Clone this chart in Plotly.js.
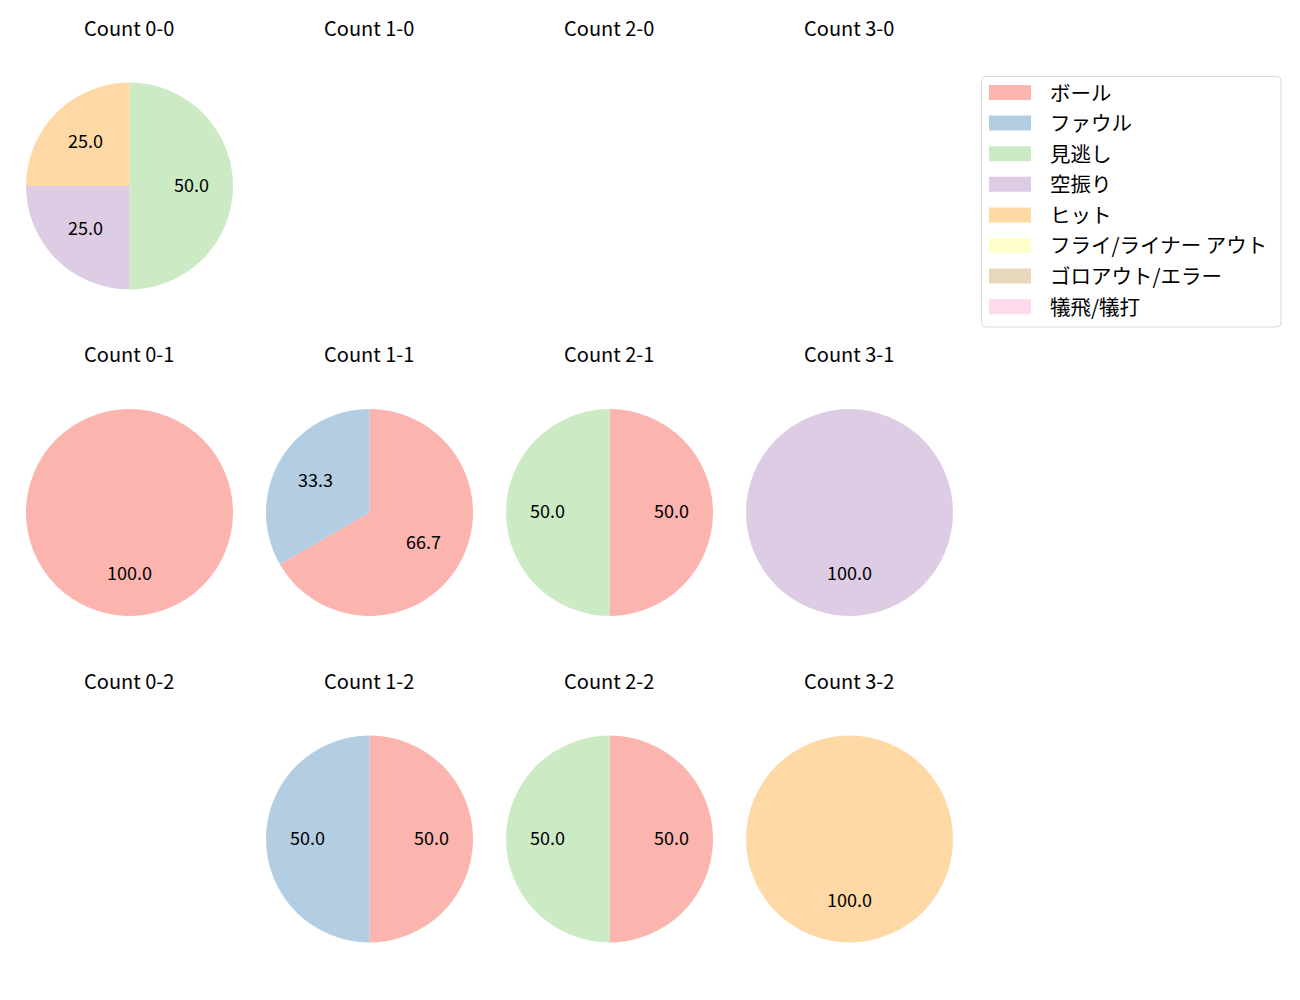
<!DOCTYPE html>
<html>
<head>
<meta charset="utf-8">
<script src="https://cdn.plot.ly/plotly-3.0.1.min.js"></script>
<style>html,body{margin:0;padding:0;background:#fff;}</style>
</head>
<body>
<div id="chart" style="width:1300px;height:1000px;"></div>
<script>
// Result categories (legend order) and colours
const labels = ['ボール', 'ファウル', '見逃し', '空振り', 'ヒット', 'フライ/ライナー アウト', 'ゴロアウト/エラー', '犠飛/犠打'];
const colors = ['#fbb4ae', '#b3cde3', '#ccebc5', '#decbe4', '#fed9a6', '#ffffcc', '#e5d8bd', '#fddaec'];

// Count titles (balls-strikes), laid out in a 4 x 3 grid
const balls = [0, 1, 2, 3];
const strikes = [0, 1, 2];

// Pitch counts per category for each ball-strike count (order = labels)
const count_0_0 = [0, 0, 2, 1, 1, 0, 0, 0];
const count_1_0 = [0, 0, 0, 0, 0, 0, 0, 0];
const count_2_0 = [0, 0, 0, 0, 0, 0, 0, 0];
const count_3_0 = [0, 0, 0, 0, 0, 0, 0, 0];
const count_0_1 = [1, 0, 0, 0, 0, 0, 0, 0];
const count_1_1 = [2, 1, 0, 0, 0, 0, 0, 0];
const count_2_1 = [1, 0, 1, 0, 0, 0, 0, 0];
const count_3_1 = [0, 0, 0, 1, 0, 0, 0, 0];
const count_0_2 = [0, 0, 0, 0, 0, 0, 0, 0];
const count_1_2 = [1, 1, 0, 0, 0, 0, 0, 0];
const count_2_2 = [1, 0, 1, 0, 0, 0, 0, 0];
const count_3_2 = [0, 0, 0, 0, 1, 0, 0, 0];

const countValues = {
  '0-0': count_0_0, '1-0': count_1_0, '2-0': count_2_0, '3-0': count_3_0,
  '0-1': count_0_1, '1-1': count_1_1, '2-1': count_2_1, '3-1': count_3_1,
  '0-2': count_0_2, '1-2': count_1_2, '2-2': count_2_2, '3-2': count_3_2
};

// Layout geometry (pixels)
const W = 1300, H = 1000;
const colCenters = [129.5, 369.5, 609.5, 849.5];
const rowCenters = [186, 512.5, 839];
const R = 103.5;
const titleOffset = 159;
const labelShift = 2.5;
const FONT = 'Noto Sans CJK JP, Noto Sans, sans-serif';

const px = x => x / W;
const py = y => 1 - y / H;

const traces = [];
const annotations = [];
const shapes = [];

strikes.forEach((s, ri) => {
  balls.forEach((b, ci) => {
    const key = b + '-' + s;
    const vals = countValues[key];
    const cx = colCenters[ci], cy = rowCenters[ri];
    annotations.push({
      text: 'Count ' + key, xref: 'paper', yref: 'paper',
      x: px(cx - 0.5), y: py(cy - titleOffset), xanchor: 'center', yanchor: 'middle',
      showarrow: false, font: {family: FONT, size: 20, color: '#000'}
    });
    const total = vals.reduce((a, c) => a + c, 0);
    if (total === 0) return;
    traces.push({
      type: 'pie', labels: labels, values: vals, sort: false,
      direction: 'clockwise', rotation: 0,
      marker: {colors: colors, line: {width: 0}},
      textinfo: 'none', hoverinfo: 'label+percent', showlegend: false,
      domain: {x: [px(cx - R), px(cx + R)], y: [py(cy + R), py(cy - R)]}
    });
    // percentage labels at 0.6 radius, like matplotlib's autopct
    let cum = 0;
    vals.forEach((v, i) => {
      if (v <= 0) return;
      const mid = (cum + v / 2) / total * 2 * Math.PI;
      cum += v;
      const lx = cx + 0.6 * R * Math.sin(mid);
      const ly = cy - 0.6 * R * Math.cos(mid) - labelShift;
      annotations.push({
        text: (v / total * 100).toFixed(1), xref: 'paper', yref: 'paper',
        x: px(lx), y: py(ly), xanchor: 'center', yanchor: 'middle',
        showarrow: false, font: {family: FONT, size: 18, color: '#000'}
      });
    });
  });
});

// Legend (drawn manually to mirror the reference legend box)
const legX0 = 981.5, legX1 = 1281, legY0 = 76.5, legY1 = 327;
const rr = 4;
shapes.push({
  type: 'path', xref: 'paper', yref: 'paper',
  path: `M ${px(legX0 + rr)} ${py(legY0)} L ${px(legX1 - rr)} ${py(legY0)} Q ${px(legX1)} ${py(legY0)} ${px(legX1)} ${py(legY0 + rr)} L ${px(legX1)} ${py(legY1 - rr)} Q ${px(legX1)} ${py(legY1)} ${px(legX1 - rr)} ${py(legY1)} L ${px(legX0 + rr)} ${py(legY1)} Q ${px(legX0)} ${py(legY1)} ${px(legX0)} ${py(legY1 - rr)} L ${px(legX0)} ${py(legY0 + rr)} Q ${px(legX0)} ${py(legY0)} ${px(legX0 + rr)} ${py(legY0)} Z`,
  line: {color: '#d9d9d9', width: 1}, fillcolor: 'rgba(255,255,255,0.8)'
});
const legRow0 = 92.5, legStep = 30.6;
labels.forEach((lab, i) => {
  const yc = legRow0 + i * legStep;
  shapes.push({
    type: 'rect', xref: 'paper', yref: 'paper',
    x0: px(989), x1: px(1031), y0: py(yc - 7.5), y1: py(yc + 7.5),
    line: {width: 0}, fillcolor: colors[i]
  });
  annotations.push({
    text: lab, xref: 'paper', yref: 'paper',
    x: px(1047.5), y: py(yc - 1), xanchor: 'left', yanchor: 'middle',
    showarrow: false, font: {family: FONT, size: 20.5, color: '#000'}
  });
});

const layout = {
  width: W, height: H,
  margin: {l: 0, r: 0, t: 0, b: 0},
  paper_bgcolor: '#fff', plot_bgcolor: '#fff',
  showlegend: false,
  annotations: annotations, shapes: shapes,
  font: {family: FONT}
};

Plotly.newPlot('chart', traces, layout, {displayModeBar: false, staticPlot: true});
</script>
</body>
</html>
